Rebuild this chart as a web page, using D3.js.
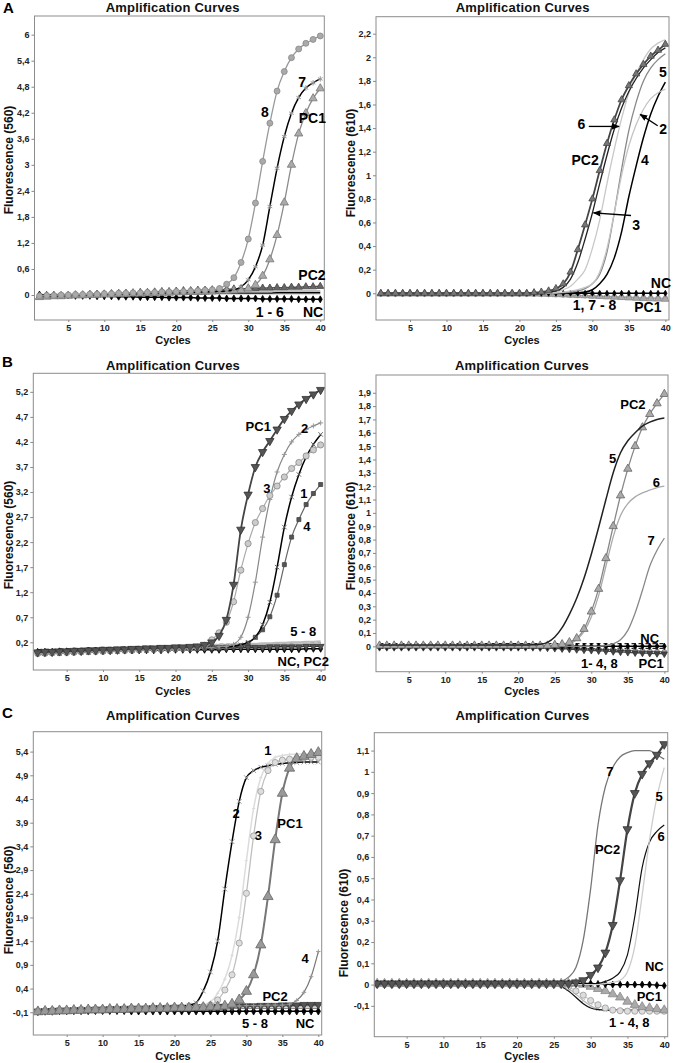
<!DOCTYPE html>
<html><head><meta charset="utf-8">
<script src="https://cdn.jsdelivr.net/npm/d3@7"></script>
<style>
body{margin:0;background:#fff;}
svg{display:block;font-family:"Liberation Sans",Arial,sans-serif;}
</style></head><body>
<svg id="c" width="673" height="1063"></svg>
<script>
// ---------------- DATA ----------------
const cycles = [1,2,3,4,5,6,7,8,9,10,11,12,13,14,15,16,17,18,19,20,21,22,23,24,25,26,27,28,29,30,31,32,33,34,35,36,37,38,39,40];
const xTicks = [5,10,15,20,25,30,35,40];
const yTicksA560 = [0,0.6,1.2,1.8,2.4,3,3.6,4.2,4.8,5.4,6];
const yTicksA610 = [0,0.2,0.4,0.6,0.8,1,1.2,1.4,1.6,1.8,2,2.2];
const yTicksB560 = [0.2,0.7,1.2,1.7,2.2,2.7,3.2,3.7,4.2,4.7,5.2];
const yTicksB610 = [0,0.1,0.2,0.3,0.4,0.5,0.6,0.7,0.8,0.9,1,1.1,1.2,1.3,1.4,1.5,1.6,1.7,1.8,1.9];
const yTicksC560 = [-0.1,0.4,0.9,1.4,1.9,2.4,2.9,3.4,3.9,4.4,4.9,5.4];
const yTicksC610 = [-0.1,0,0.1,0.2,0.3,0.4,0.5,0.6,0.7,0.8,0.9,1,1.1];

// Panel A, 560
const a560_8 = [-0.02,-0.01,-0.01,0,0,0.01,0.01,0.02,0.02,0.03,
 0.03,0.04,0.04,0.05,0.05,0.06,0.06,0.07,0.07,0.08,
 0.08,0.09,0.1,0.11,0.12,0.15,0.25,0.4,0.75,1.29,
 2.12,3.08,3.96,4.7,5.15,5.47,5.67,5.8,5.89,5.97];
const a560_7 = [-0.03,-0.02,-0.02,-0.01,-0.01,0,0,0.01,0.01,0.02,
 0.02,0.03,0.03,0.03,0.04,0.04,0.05,0.05,0.05,0.06,
 0.06,0.06,0.07,0.07,0.08,0.08,0.09,0.12,0.19,0.35,
 0.65,1.15,2.04,2.92,3.65,4.19,4.55,4.77,4.89,4.98];
const a560_PC1 = [-0.05,-0.04,-0.03,-0.03,-0.02,-0.01,-0.01,0,0,0.01,
 0.01,0.02,0.02,0.03,0.03,0.04,0.04,0.05,0.05,0.06,
 0.06,0.07,0.07,0.08,0.08,0.09,0.09,0.1,0.11,0.15,
 0.23,0.44,0.82,1.38,2.13,3.0,3.72,4.19,4.53,4.76];
const a560_PC2 = [-0.04,-0.03,-0.02,-0.02,-0.01,0,0,0.01,0.02,0.02,
 0.03,0.04,0.04,0.05,0.06,0.06,0.07,0.08,0.08,0.09,
 0.1,0.1,0.11,0.11,0.12,0.12,0.13,0.14,0.14,0.15,
 0.15,0.16,0.16,0.17,0.17,0.18,0.18,0.19,0.19,0.2];
const a560_NC = [0.01,0,0,-0.01,-0.01,-0.02,-0.02,-0.02,-0.03,-0.03,
 -0.03,-0.04,-0.04,-0.04,-0.05,-0.05,-0.05,-0.05,-0.06,-0.06,
 -0.06,-0.06,-0.07,-0.07,-0.07,-0.07,-0.08,-0.08,-0.08,-0.08,
 -0.08,-0.09,-0.09,-0.09,-0.09,-0.09,-0.1,-0.1,-0.1,-0.1];
const a560_s1 = [0,0,0.01,0.01,0.01,0.02,0.02,0.02,0.03,0.03,
 0.03,0.04,0.04,0.04,0.05,0.05,0.05,0.05,0.06,0.06,
 0.06,0.06,0.07,0.07,0.07,0.07,0.07,0.08,0.08,0.08,
 0.08,0.08,0.08,0.09,0.09,0.09,0.09,0.09,0.09,0.09];
const a560_s2 = [-0.02,-0.02,-0.01,-0.01,-0.01,0,0,0,0.01,0.01,
 0.01,0.02,0.02,0.02,0.02,0.03,0.03,0.03,0.03,0.03,
 0.04,0.04,0.04,0.04,0.04,0.04,0.05,0.05,0.05,0.05,
 0.05,0.05,0.05,0.06,0.06,0.06,0.06,0.06,0.06,0.06];
const a560_s3 = [-0.03,-0.03,-0.02,-0.02,-0.02,-0.01,-0.01,-0.01,0,0,
 0,0,0.01,0.01,0.01,0.01,0.01,0.02,0.02,0.02,
 0.02,0.02,0.02,0.02,0.03,0.03,0.03,0.03,0.03,0.03,
 0.03,0.03,0.03,0.03,0.03,0.03,0.03,0.03,0.03,0.03];

// Panel A, 610
const a610_PC2 = [0,0,0,0,0,0,0,0,0,0,
 0,0,0,0,0,0,0,0,0,0,
 0,0.005,0.01,0.02,0.04,0.08,0.18,0.37,0.58,0.8,
 1.04,1.27,1.47,1.64,1.76,1.86,1.94,2.01,2.06,2.11];
const a610_3 = [0,0,0,0,0,0,0,0,0,0,
 0,0,0,0,0,0,0,0,0,0,
 0,0,0,0.01,0.02,0.05,0.12,0.26,0.46,0.68,
 0.93,1.17,1.39,1.57,1.71,1.82,1.91,1.98,2.04,2.08];
const a610_6 = [0,0,0,0,0,0,0,0,0,0,
 0,0,0,0,0,0,0,0,0,0,
 0,0,0,0.005,0.01,0.03,0.06,0.12,0.2,0.38,
 0.62,0.93,1.22,1.48,1.7,1.86,1.98,2.07,2.12,2.15];
const a610_2 = [0,0,0,0,0,0,0,0,0,0,
 0,0,0,0,0,0,0,0,0,0,
 0,0,0,0,0.005,0.01,0.02,0.03,0.05,0.08,
 0.18,0.38,0.68,1.0,1.25,1.43,1.56,1.65,1.7,1.73];
const a610_5 = [0,0,0,0,0,0,0,0,0,0,
 0,0,0,0,0,0,0,0,0,0,
 0,0,0,0,0,0.005,0.01,0.02,0.04,0.08,
 0.16,0.35,0.68,1.05,1.38,1.62,1.8,1.91,1.98,2.03];
const a610_4 = [0,0,0,0,0,0,0,0,0,0,
 0,0,0,0,0,0,0,0,0,0,
 0,0,0,0,0,0,0,0.005,0.01,0.03,
 0.08,0.16,0.3,0.52,0.82,1.08,1.32,1.52,1.67,1.79];
const a610_NC = [0,0,0,0,0,0,0,0,0,0,
 0,0,0,0,0,0,0,0,0,0,
 0,0,0,0,0,0,0,0,0,0,
 0,0,0,0,0,0,0,0,0,0];
const a610_PC1 = [-0.005,-0.005,-0.005,-0.005,-0.005,-0.005,-0.005,-0.005,-0.005,-0.005,
 -0.005,-0.005,-0.005,-0.005,-0.005,-0.005,-0.005,-0.005,-0.005,-0.005,
 -0.005,-0.005,-0.006,-0.008,-0.01,-0.012,-0.015,-0.018,-0.02,-0.023,
 -0.026,-0.029,-0.032,-0.035,-0.038,-0.041,-0.044,-0.046,-0.048,-0.05];
const a610_1 = [-0.008,-0.008,-0.008,-0.008,-0.008,-0.008,-0.008,-0.008,-0.008,-0.008,
 -0.008,-0.008,-0.008,-0.008,-0.008,-0.008,-0.008,-0.008,-0.008,-0.008,
 -0.008,-0.008,-0.009,-0.01,-0.012,-0.014,-0.016,-0.018,-0.02,-0.022,
 -0.024,-0.026,-0.028,-0.03,-0.032,-0.034,-0.036,-0.038,-0.04,-0.041];

// Panel B, 560
const b560_PC1 = [0,0.01,0.01,0.02,0.02,0.03,0.03,0.04,0.04,0.05,
 0.05,0.06,0.06,0.07,0.07,0.08,0.08,0.09,0.09,0.1,
 0.1,0.11,0.12,0.15,0.2,0.33,0.65,1.35,2.45,3.15,
 3.7,4.0,4.22,4.45,4.66,4.82,4.95,5.06,5.15,5.24];
const b560_3 = [-0.02,-0.01,-0.01,0,0,0.01,0.01,0.02,0.02,0.03,
 0.03,0.04,0.04,0.05,0.05,0.06,0.06,0.07,0.07,0.08,
 0.08,0.09,0.1,0.14,0.25,0.39,0.6,1.01,1.64,2.17,
 2.59,2.87,3.13,3.32,3.5,3.67,3.79,3.92,4.04,4.14];
const b560_2 = [-0.03,-0.02,-0.02,-0.01,-0.01,0,0,0.01,0.01,0.02,
 0.02,0.03,0.03,0.04,0.04,0.05,0.05,0.06,0.06,0.07,
 0.07,0.08,0.08,0.09,0.1,0.11,0.12,0.16,0.3,0.7,
 1.4,2.3,3.05,3.6,3.95,4.2,4.35,4.45,4.52,4.58];
const b560_1 = [-0.02,-0.02,-0.01,-0.01,0,0,0.01,0.01,0.02,0.02,
 0.03,0.03,0.04,0.04,0.05,0.05,0.06,0.06,0.07,0.07,
 0.08,0.08,0.09,0.09,0.1,0.1,0.11,0.12,0.15,0.2,
 0.3,0.55,1.0,1.7,2.5,3.1,3.55,3.9,4.15,4.35];
const b560_4 = [-0.03,-0.03,-0.02,-0.02,-0.01,-0.01,0,0,0.01,0.01,
 0.02,0.02,0.03,0.03,0.04,0.04,0.05,0.05,0.06,0.06,
 0.07,0.07,0.08,0.08,0.09,0.09,0.1,0.11,0.13,0.18,
 0.3,0.45,0.71,1.14,1.75,2.3,2.65,2.95,3.17,3.35];
const b560_5 = [-0.04,-0.03,-0.02,-0.01,0,0.01,0.02,0.02,0.03,0.04,
 0.05,0.05,0.06,0.07,0.08,0.08,0.09,0.1,0.1,0.11,
 0.12,0.12,0.13,0.14,0.14,0.15,0.15,0.16,0.16,0.17,
 0.17,0.18,0.18,0.19,0.19,0.2,0.2,0.21,0.21,0.22];
const b560_6 = [-0.05,-0.04,-0.03,-0.02,-0.01,0,0,0.01,0.02,0.03,
 0.03,0.04,0.05,0.05,0.06,0.07,0.07,0.08,0.08,0.09,
 0.1,0.1,0.11,0.11,0.12,0.12,0.13,0.13,0.14,0.14,
 0.15,0.15,0.15,0.16,0.16,0.16,0.17,0.17,0.17,0.18];
const b560_NC = [0.01,0.01,0.01,0.02,0.02,0.02,0.02,0.03,0.03,0.03,
 0.03,0.03,0.04,0.04,0.04,0.04,0.04,0.04,0.05,0.05,
 0.05,0.05,0.05,0.05,0.05,0.05,0.06,0.06,0.06,0.06,
 0.06,0.06,0.06,0.06,0.06,0.06,0.06,0.07,0.07,0.07];
const b560_PC2 = [0,0,0.01,0.01,0.02,0.02,0.03,0.03,0.04,0.04,
 0.05,0.05,0.05,0.06,0.06,0.06,0.07,0.07,0.07,0.08,
 0.08,0.08,0.08,0.09,0.09,0.09,0.09,0.1,0.1,0.1,
 0.1,0.1,0.11,0.11,0.11,0.11,0.11,0.12,0.12,0.12];
const b560_d1 = [0.05,0.06,0.06,0.07,0.07,0.08,0.08,0.09,0.09,0.1,
 0.1,0.1,0.11,0.11,0.12,0.12,0.12,0.13,0.13,0.14,
 0.14,0.14,0.15,0.15,0.15,0.16,0.16,0.16,0.16,0.17,
 0.17,0.17,0.17,0.18,0.18,0.18,0.18,0.18,0.19,0.19];
const b560_d2 = [-0.01,0,0,0.01,0.01,0.02,0.02,0.03,0.03,0.04,
 0.04,0.05,0.05,0.05,0.06,0.06,0.07,0.07,0.07,0.08,
 0.08,0.08,0.09,0.09,0.09,0.1,0.1,0.1,0.1,0.11,
 0.11,0.11,0.11,0.12,0.12,0.12,0.12,0.12,0.13,0.13];

// Panel B, 610
const b610_5 = [0.01,0.01,0.01,0.01,0.01,0.01,0.01,0.01,0.01,0.01,
 0.01,0.01,0.01,0.01,0.01,0.01,0.01,0.01,0.01,0.01,
 0.01,0.012,0.015,0.03,0.07,0.14,0.24,0.36,0.51,0.69,
 0.89,1.1,1.3,1.45,1.54,1.6,1.65,1.68,1.7,1.71];
const b610_PC2 = [0.005,0.005,0.005,0.005,0.005,0.005,0.005,0.005,0.005,0.005,
 0.005,0.005,0.005,0.005,0.005,0.005,0.005,0.005,0.005,0.005,
 0.005,0.005,0.005,0.005,0.01,0.015,0.03,0.06,0.13,0.26,
 0.43,0.66,0.9,1.13,1.33,1.5,1.64,1.74,1.82,1.89];
const b610_6 = [0,0,0,0,0,0,0,0,0,0,
 0,0,0,0,0,0,0,0,0,0,
 0,0,0,0,0.005,0.01,0.02,0.05,0.11,0.22,
 0.38,0.6,0.82,0.98,1.07,1.12,1.15,1.17,1.19,1.2];
const b610_7 = [0,0,0,0,0,0,0,0,0,0,
 0,0,0,0,0,0,0,0,0,0,
 0,0,0,0,0,0,0,0,0,0,
 0,0.005,0.02,0.05,0.12,0.25,0.42,0.6,0.72,0.81];
const b610_NC = [0,0,0,0,0,0,0,0,0,0,
 0,0,0,0,0,0,0,0,0,0,
 0,0,0,0,0,0,0,0,0,0,
 0,0,0,0,0,0,0,0,0,0];
const b610_1 = [-0.005,-0.005,-0.005,-0.005,-0.005,-0.005,-0.005,-0.005,-0.005,-0.005,
 -0.005,-0.005,-0.005,-0.005,-0.005,-0.005,-0.005,-0.005,-0.005,-0.005,
 -0.005,-0.005,-0.006,-0.008,-0.01,-0.012,-0.014,-0.016,-0.018,-0.02,
 -0.022,-0.024,-0.026,-0.028,-0.03,-0.032,-0.034,-0.036,-0.038,-0.04];
const b610_PC1 = [-0.008,-0.008,-0.008,-0.008,-0.008,-0.008,-0.008,-0.008,-0.008,-0.008,
 -0.008,-0.008,-0.008,-0.008,-0.008,-0.008,-0.008,-0.008,-0.008,-0.008,
 -0.008,-0.008,-0.01,-0.012,-0.015,-0.018,-0.021,-0.024,-0.027,-0.03,
 -0.033,-0.036,-0.039,-0.042,-0.045,-0.048,-0.05,-0.052,-0.054,-0.056];
const b610_d1 = [0.02,0.02,0.02,0.02,0.02,0.02,0.02,0.02,0.02,0.02,
 0.02,0.02,0.02,0.02,0.02,0.02,0.02,0.02,0.02,0.02,
 0.02,0.02,0.02,0.02,0.02,0.02,0.02,0.02,0.02,0.02,
 0.02,0.02,0.02,0.02,0.02,0.02,0.02,0.02,0.02,0.02];
const b610_d2 = [-0.015,-0.015,-0.015,-0.015,-0.015,-0.015,-0.015,-0.015,-0.015,-0.015,
 -0.015,-0.015,-0.015,-0.015,-0.015,-0.015,-0.015,-0.015,-0.015,-0.015,
 -0.015,-0.015,-0.015,-0.015,-0.015,-0.015,-0.015,-0.015,-0.015,-0.015,
 -0.015,-0.015,-0.015,-0.015,-0.015,-0.015,-0.015,-0.015,-0.015,-0.015];

// Panel C, 560
const c560_2 = [-0.07,-0.06,-0.05,-0.05,-0.04,-0.04,-0.03,-0.03,-0.03,-0.02,
 -0.02,-0.02,-0.01,-0.01,-0.01,0,0,0,0.01,0.01,
 0.02,0.05,0.1,0.35,0.75,1.4,2.5,3.5,4.35,4.85,
 5.0,5.07,5.1,5.13,5.15,5.16,5.17,5.18,5.18,5.18];
const c560_3 = [-0.08,-0.07,-0.07,-0.06,-0.06,-0.05,-0.05,-0.04,-0.04,-0.04,
 -0.03,-0.03,-0.03,-0.02,-0.02,-0.02,-0.01,-0.01,-0.01,0,
 0,0,0.01,0.02,0.05,0.16,0.37,0.69,1.36,2.41,
 3.62,4.56,5.0,5.17,5.22,5.24,5.26,5.27,5.28,5.28];
const c560_1 = [-0.07,-0.07,-0.06,-0.06,-0.05,-0.05,-0.04,-0.04,-0.04,-0.03,
 -0.03,-0.03,-0.02,-0.02,-0.02,-0.01,-0.01,-0.01,0,0,
 0,0.01,0.02,0.05,0.12,0.3,0.6,1.1,1.9,3.1,
 4.2,4.85,5.15,5.28,5.32,5.34,5.35,5.35,5.35,5.35];
const c560_PC1 = [-0.09,-0.08,-0.08,-0.07,-0.07,-0.06,-0.06,-0.05,-0.05,-0.05,
 -0.04,-0.04,-0.04,-0.03,-0.03,-0.03,-0.02,-0.02,-0.02,-0.01,
 -0.01,-0.01,0,0,0.01,0.01,0.03,0.07,0.16,0.34,
 0.69,1.32,2.34,3.54,4.52,5.05,5.25,5.3,5.34,5.38];
const c560_4 = [-0.06,-0.06,-0.05,-0.05,-0.04,-0.04,-0.04,-0.03,-0.03,-0.03,
 -0.02,-0.02,-0.02,-0.01,-0.01,-0.01,0,0,0,0,
 0.01,0.01,0.01,0.02,0.02,0.02,0.03,0.03,0.03,0.04,
 0.04,0.04,0.05,0.05,0.05,0.07,0.15,0.32,0.65,1.18];
const c560_PC2 = [-0.08,-0.07,-0.07,-0.06,-0.06,-0.05,-0.05,-0.05,-0.04,-0.04,
 -0.03,-0.03,-0.03,-0.02,-0.02,-0.02,-0.01,-0.01,-0.01,0,
 0,0,0.01,0.01,0.01,0.02,0.02,0.02,0.03,0.03,
 0.03,0.04,0.04,0.04,0.05,0.05,0.05,0.06,0.06,0.06];
const c560_NC = [-0.07,-0.07,-0.07,-0.07,-0.07,-0.07,-0.07,-0.07,-0.07,-0.07,
 -0.07,-0.07,-0.07,-0.08,-0.08,-0.08,-0.08,-0.08,-0.08,-0.08,
 -0.08,-0.08,-0.08,-0.08,-0.08,-0.08,-0.08,-0.08,-0.08,-0.08,
 -0.08,-0.08,-0.08,-0.08,-0.08,-0.08,-0.08,-0.08,-0.08,-0.08];
const c560_5 = [-0.06,-0.06,-0.05,-0.05,-0.05,-0.04,-0.04,-0.04,-0.03,-0.03,
 -0.03,-0.03,-0.02,-0.02,-0.02,-0.02,-0.01,-0.01,-0.01,-0.01,
 -0.01,0,0,0,0,0,0.01,0.01,0.01,0.01,
 0.01,0.01,0.02,0.02,0.02,0.02,0.02,0.02,0.02,0.02];
const c560_6 = [-0.08,-0.07,-0.07,-0.07,-0.06,-0.06,-0.06,-0.06,-0.05,-0.05,
 -0.05,-0.05,-0.05,-0.04,-0.04,-0.04,-0.04,-0.04,-0.04,-0.03,
 -0.03,-0.03,-0.03,-0.03,-0.03,-0.03,-0.03,-0.02,-0.02,-0.02,
 -0.02,-0.02,-0.02,-0.02,-0.02,-0.02,-0.02,-0.02,-0.02,-0.02];

// Panel C, 610
const c610_7 = [0,0,0,0,0,0,0,0,0,0,
 0,0,0,0,0,0,0,0,0,0,
 0,0,0,0,0.005,0.015,0.035,0.08,0.21,0.45,
 0.75,0.93,1.02,1.07,1.09,1.1,1.1,1.1,1.08,1.06];
const c610_PC2 = [0.005,0.005,0.005,0.005,0.005,0.005,0.005,0.005,0.005,0.005,
 0.005,0.005,0.005,0.005,0.005,0.005,0.005,0.005,0.005,0.005,
 0.005,0.005,0.005,0.005,0.005,0.005,0.005,0.01,0.02,0.045,
 0.08,0.15,0.28,0.49,0.73,0.9,0.99,1.04,1.08,1.13];
const c610_5 = [0,0,0,0,0,0,0,0,0,0,
 0,0,0,0,0,0,0,0,0,0,
 0,0,0,0,0,0,0,0,0,0,
 0,0.005,0.01,0.02,0.06,0.18,0.42,0.68,0.88,1.02];
const c610_6 = [0,0,0,0,0,0,0,0,0,0,
 0,0,0,0,0,0,0,0,0,0,
 0,0,0,0,0,0,0,0,0,0,
 0.005,0.015,0.03,0.06,0.14,0.32,0.55,0.67,0.72,0.75];
const c610_NC = [0.005,0.005,0.005,0.005,0.005,0.005,0.005,0.005,0.005,0.005,
 0.005,0.005,0.005,0.005,0.005,0.005,0.005,0.005,0.005,0.005,
 0.005,0.005,0.005,0.005,0.005,0.005,0.005,0.005,0.005,0.005,
 0.003,0.002,0,0,0,0,0,0,-0.003,-0.005];
const c610_PC1 = [0.005,0.005,0.005,0.005,0.005,0.005,0.005,0.005,0.005,0.005,
 0.005,0.005,0.005,0.005,0.005,0.005,0.005,0.005,0.005,0.005,
 0.005,0.005,0.005,0.005,0.005,0.005,0.005,0.005,0,-0.01,
 -0.02,-0.03,-0.045,-0.06,-0.08,-0.095,-0.105,-0.11,-0.115,-0.12];
const c610_1 = [0,0,0,0,0,0,0,0,0,0,
 0,0,0,0,0,0,0,0,0,0,
 0,0,0,0,0,0,-0.01,-0.03,-0.05,-0.075,
 -0.095,-0.11,-0.12,-0.123,-0.125,-0.125,-0.125,-0.125,-0.125,-0.125];
const c610_2 = [0,0,0,0,0,0,0,0,0,0,
 0,0,0,0,0,0,0,0,0,0,
 0,0,0,0,0,-0.01,-0.03,-0.06,-0.09,-0.11,
 -0.118,-0.12,-0.12,-0.12,-0.12,-0.12,-0.12,-0.12,-0.12,-0.12];
const c610_3 = [0,0,0,0,0,0,0,0,0,0,
 0,0,0,0,0,0,0,0,0,0,
 0,0,0,0,0,-0.005,-0.02,-0.045,-0.075,-0.1,
 -0.115,-0.12,-0.12,-0.122,-0.122,-0.122,-0.123,-0.123,-0.123,-0.123];

// ---------------- DRAWING ----------------
const svg = d3.select('#c');
svg.append('rect').attr('width',673).attr('height',1063).attr('fill','#fff');
const defs = svg.append('defs');
defs.append('marker').attr('id','ah').attr('viewBox','0 0 10 10').attr('refX',9).attr('refY',5)
  .attr('markerWidth',6).attr('markerHeight',6).attr('orient','auto')
  .append('path').attr('d','M0,1L10,5L0,9z').attr('fill','#000');

const symAst = {draw(c,s){const r=Math.sqrt(s)/2;[Math.PI/2,Math.PI/6,5*Math.PI/6].forEach(a=>{c.moveTo(r*Math.cos(a),r*Math.sin(a));c.lineTo(-r*Math.cos(a),-r*Math.sin(a));});}};
const symX = {draw(c,s){const r=Math.sqrt(s)/2;c.moveTo(-r,-r);c.lineTo(r,r);c.moveTo(r,-r);c.lineTo(-r,r);}};
const symPlus = {draw(c,s){const r=Math.sqrt(s)/2;c.moveTo(-r,0);c.lineTo(r,0);c.moveTo(0,-r);c.lineTo(0,r);}};
const types = {circle:d3.symbolCircle, tri:d3.symbolTriangle, tridown:d3.symbolTriangle, diamond:d3.symbolDiamond,
  square:d3.symbolSquare, ast:symAst, x:symX, plus:symPlus};

const fmt = d => d3.format('.2~f')(d).replace('.',',').replace('\u2212','-');
const S = (v,c,w,o={}) => Object.assign({v,c,w},o);

function drawPanel(p){
  const [L,T,R,B] = p.frame;
  const x = d3.scaleLinear().domain(p.xd).range([L,R]);
  const y = d3.scaleLinear().domain(p.yd).range([B,T]);
  const g = svg.append('g');
  defs.append('clipPath').attr('id','clip'+p.id).append('rect')
    .attr('x',L).attr('y',T).attr('width',R-L).attr('height',B-T);

  g.append('g').attr('transform',`translate(${L},0)`)
    .call(d3.axisLeft(y).tickValues(p.yt).tickFormat(fmt).tickSize(3).tickPadding(2))
    .call(s=>{s.select('.domain').remove();
      s.selectAll('text').attr('font-size',9).attr('font-weight','bold').attr('fill','#222').attr('font-family','Liberation Sans, Arial, sans-serif');
      s.selectAll('line').attr('stroke','#888');});
  g.append('g').attr('transform',`translate(0,${B})`)
    .call(d3.axisBottom(x).tickValues(xTicks).tickFormat(d3.format('d')).tickSize(2).tickPadding(3))
    .call(s=>{s.select('.domain').remove();
      s.selectAll('text').attr('font-size',9).attr('font-weight','bold').attr('fill','#222').attr('font-family','Liberation Sans, Arial, sans-serif');
      s.selectAll('line').attr('stroke','#888');});

  const plot = g.append('g').attr('clip-path',`url(#clip${p.id})`);
  const line = d3.line().x((d,i)=>x(cycles[i])).y(d=>y(d)).curve(d3.curveMonotoneX);
  p.series.forEach(s=>{
    plot.append('path').attr('d',line(s.v)).attr('fill','none').attr('stroke',s.c)
      .attr('stroke-width',s.w).attr('stroke-dasharray',s.dash||null).attr('stroke-linejoin','round');
    if(s.m){
      const sym = d3.symbol().type(types[s.m]).size(s.sz||25);
      plot.append('g').selectAll('path').data(s.v).join('path')
        .attr('transform',(d,i)=>`translate(${x(cycles[i])},${y(d)})${s.m==='tridown'?' rotate(180)':''}`)
        .attr('d',sym)
        .attr('fill',s.mf||'none').attr('stroke',s.ms||s.c).attr('stroke-width',s.mw||0.8);
    }
  });

  g.append('rect').attr('x',L).attr('y',T).attr('width',R-L).attr('height',B-T)
    .attr('fill','none').attr('stroke','#8c8c8c').attr('stroke-width',1);

  (p.arrows||[]).forEach(a=>{
    g.append('line').attr('x1',x(a[0])).attr('y1',y(a[1])).attr('x2',x(a[2])).attr('y2',y(a[3]))
      .attr('stroke','#000').attr('stroke-width',1.3).attr('marker-end','url(#ah)');
  });
  p.labels.forEach(l=>{
    g.append('text').attr('x',x(l[1])).attr('y',y(l[2])).attr('dy','0.35em').attr('text-anchor','middle')
      .attr('font-size',p.lsz).attr('font-weight','bold').attr('fill','#000').text(l[0]);
  });
  g.append('text').attr('x',p.title[0]).attr('y',p.title[1]).attr('text-anchor','middle')
    .attr('font-size',13).attr('font-weight','bold').attr('letter-spacing',0.2).attr('fill','#111').text('Amplification Curves');
  g.append('text').attr('x',p.cyc[0]).attr('y',p.cyc[1]).attr('text-anchor','middle')
    .attr('font-size',11).attr('font-weight','bold').attr('fill','#111').text('Cycles');
  g.append('text').attr('transform',`translate(${p.ylab[0]},${p.ylab[1]}) rotate(-90)`).attr('dy','0.35em')
    .attr('text-anchor','middle').attr('font-size',12).attr('font-weight','bold').attr('fill','#111').text(p.ylabText);
  if(p.letter){
    g.append('text').attr('x',p.letter[1]).attr('y',p.letter[2]).attr('font-size',15).attr('font-weight','bold')
      .attr('fill','#000').text(p.letter[0]);
  }
}

const panels = [
 {id:'A560', frame:[34.5,16,324.3,320], xd:[0.31,40.56], yd:[-0.576,6.43], yt:yTicksA560,
  ylabText:'Fluorescence (560)', ylab:[9,160], title:[172.7,11.5], cyc:[173,344], letter:['A',3,13], lsz:14,
  series:[
   S(a560_s3,'#777',1.2), S(a560_s2,'#000',1.2), S(a560_s1,'#c0c0c0',2),
   S(a560_NC,'#000',1.5,{m:'diamond',mf:'#000',ms:'#000',sz:14}),
   S(a560_PC2,'#555',1.5,{m:'tri',mf:'#666',ms:'#444',sz:22}),
   S(a560_PC1,'#8c8c8c',1.3,{m:'tri',mf:'#aaa',ms:'#777',sz:30}),
   S(a560_7,'#000',1.5,{m:'ast',mf:'none',ms:'#999',sz:30,mw:1}),
   S(a560_8,'#999',1.3,{m:'circle',mf:'#aaa',ms:'#888',sz:28})],
  labels:[['8',32.3,4.22],['7',37.5,4.91],['PC1',38.9,4.08],['PC2',38.85,0.46],['1 - 6',33.0,-0.39],['NC',39.0,-0.39]]},
 {id:'A610', frame:[376,16.7,669,320], xd:[0.34,40.5], yd:[-0.2265,2.344], yt:yTicksA610,
  ylabText:'Fluorescence (610)', ylab:[351,163], title:[522.7,11.5], cyc:[522,344], lsz:14,
  series:[
   S(a610_1,'#aaa',1.2,{m:'circle',mf:'#bbb',ms:'#999',sz:18}),
   S(a610_PC1,'#999',1.2,{m:'tri',mf:'#aaa',ms:'#888',sz:24}),
   S(a610_NC,'#000',1.5,{m:'diamond',mf:'#000',ms:'#000',sz:10}),
   S(a610_4,'#000',1.5), S(a610_5,'#888',1.3), S(a610_2,'#c4c4c4',1.3), S(a610_6,'#c8c8c8',1.3),
   S(a610_3,'#222',1.3),
   S(a610_PC2,'#444',1.8,{m:'tri',mf:'#777',ms:'#444',sz:22})],
  labels:[['5',39.67,1.874],['6',28.5,1.43],['2',39.7,1.394],['PC2',29.0,1.126],['4',37.2,1.125],['3',36.0,0.574],
          ['NC',39.4,0.085],['1, 7 - 8',30.3,-0.096],['PC1',37.6,-0.113]],
  arrows:[[29.5,1.414,33.65,1.414],[38.95,1.42,36.55,1.516],[35.3,0.659,30.15,0.682]]},
 {id:'B560', frame:[33.3,373.3,325,670], xd:[0.4,40.6], yd:[-0.353,5.57], yt:yTicksB560,
  ylabText:'Fluorescence (560)', ylab:[9,535], title:[173,369.5], cyc:[173,695], letter:['B',2,367], lsz:13,
  series:[
   S(b560_d1,'#222',1.2,{dash:'4,3'}), S(b560_d2,'#222',1.2,{dash:'4,3'}),
   S(b560_6,'#c8c8c8',2), S(b560_5,'#bbb',2),
   S(b560_NC,'#000',1.5,{m:'diamond',mf:'#000',ms:'#000',sz:14}),
   S(b560_PC2,'#333',1.5,{m:'tridown',mf:'#555',ms:'#333',sz:20}),
   S(b560_4,'#666',1.2,{m:'square',mf:'#555',ms:'#444',sz:16}),
   S(b560_1,'#000',1.5,{m:'x',mf:'none',ms:'#666',sz:20,mw:1}),
   S(b560_2,'#888',1.2,{m:'plus',mf:'none',ms:'#999',sz:25,mw:1}),
   S(b560_3,'#aaa',1.2,{m:'circle',mf:'#ccc',ms:'#888',sz:30}),
   S(b560_PC1,'#444',1.8,{m:'tridown',mf:'#555',ms:'#333',sz:30})],
  labels:[['PC1',31.4,4.5],['2',37.8,4.47],['3',32.6,3.27],['1',37.7,3.17],['4',38.1,2.51],['5 - 8',37.6,0.41],['NC, PC2',37.6,-0.19]]},
 {id:'B610', frame:[376,375,668,671.7], xd:[0.52,40.5], yd:[-0.19,2.033], yt:yTicksB610,
  ylabText:'Fluorescence (610)', ylab:[351,536], title:[522,369.5], cyc:[522,695], lsz:13,
  series:[
   S(b610_d1,'#222',1.2,{dash:'4,3'}), S(b610_d2,'#222',1.2,{dash:'4,3'}),
   S(b610_1,'#999',1.2,{m:'circle',mf:'#aaa',ms:'#777',sz:16}),
   S(b610_PC1,'#444',1.3,{m:'tridown',mf:'#444',ms:'#333',sz:18}),
   S(b610_NC,'#000',1.5,{m:'diamond',mf:'#000',ms:'#000',sz:12}),
   S(b610_7,'#888',1.3), S(b610_6,'#aaa',1.3),
   S(b610_PC2,'#888',1.3,{m:'tri',mf:'#aaa',ms:'#666',sz:30}),
   S(b610_5,'#222',1.5)],
  labels:[['PC2',35.7,1.81],['5',32.9,1.41],['6',38.9,1.23],['7',38.2,0.795],['NC',38.0,0.058],['1- 4, 8',31.1,-0.13],['PC1',38.2,-0.13]]},
 {id:'C560', frame:[33.3,731.7,321.7,1035], xd:[0.36,40.47], yd:[-0.58,5.82], yt:yTicksC560,
  ylabText:'Fluorescence (560)', ylab:[9,900], title:[173,719.5], cyc:[173,1060], letter:['C',2,718], lsz:13,
  series:[
   S(c560_6,'#888',1.2), S(c560_5,'#bbb',1.5),
   S(c560_NC,'#000',1.5,{m:'diamond',mf:'#000',ms:'#000',sz:16}),
   S(c560_PC2,'#444',2,{m:'tridown',mf:'#555',ms:'#333',sz:26}),
   S(c560_4,'#777',1.2,{m:'plus',mf:'none',ms:'#999',sz:20,mw:1}),
   S(c560_1,'#dcdcdc',1.5,{m:'plus',mf:'none',ms:'#ddd',sz:12,mw:1}),
   S(c560_2,'#000',1.5,{m:'x',mf:'none',ms:'#999',sz:22,mw:1}),
   S(c560_3,'#c0c0c0',1.3,{m:'circle',mf:'#ddd',ms:'#999',sz:30}),
   S(c560_PC1,'#777',2,{m:'tri',mf:'#999',ms:'#666',sz:45})],
  labels:[['1',33.0,5.43],['2',28.55,4.1],['3',31.65,3.64],['PC1',36.06,3.89],['4',38.15,1.04],['PC2',33.98,0.23],['5 - 8',31.2,-0.33],['NC',38.15,-0.33]]},
 {id:'C610', frame:[374.3,732.7,667.7,1036.7], xd:[0.61,40.47], yd:[-0.245,1.184], yt:yTicksC610,
  ylabText:'Fluorescence (610)', ylab:[344,923], title:[522.5,719.5], cyc:[522,1060], lsz:13,
  series:[
   S(c610_3,'#bbb',1.2,{m:'x',mf:'none',ms:'#bbb',sz:16,mw:1}),
   S(c610_2,'#111',1.3),
   S(c610_1,'#ccc',1.2,{m:'circle',mf:'#ddd',ms:'#999',sz:30}),
   S(c610_PC1,'#999',1.3,{m:'tri',mf:'#aaa',ms:'#888',sz:36}),
   S(c610_NC,'#000',1.3,{m:'diamond',mf:'#000',ms:'#000',sz:14}),
   S(c610_6,'#111',1.2), S(c610_5,'#ccc',1.3), S(c610_7,'#777',1.3),
   S(c610_PC2,'#444',2.2,{m:'tridown',mf:'#555',ms:'#333',sz:34})],
  labels:[['7',32.6,1.0],['5',39.3,0.884],['PC2',32.3,0.633],['6',39.56,0.696],['NC',38.65,0.085],['PC1',37.97,-0.056],['1 - 4, 8',35.25,-0.18]]}
];
panels.forEach(drawPanel);
</script></body></html>
